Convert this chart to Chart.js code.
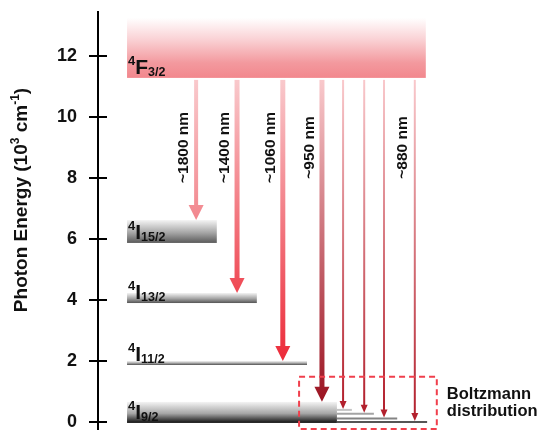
<!DOCTYPE html>
<html>
<head>
<meta charset="utf-8">
<script src="https://cdn.jsdelivr.net/npm/chart.js@4.4.0/dist/chart.umd.min.js"></script>
<style>
  html, body { margin: 0; padding: 0; background: #fff; }
  canvas { display: block; }
</style>
</head>
<body>
<canvas id="c" width="538" height="430"></canvas>
<script>
// ---- Nd3+ energy levels, in 10^3 cm^-1 (lower / upper edge of each manifold)
const levelTerm = ['F', 'I', 'I', 'I', 'I'];
const levelJ    = ['3/2', '15/2', '13/2', '11/2', '9/2'];
const levelLow  = [11.28, 5.87, 3.90, 1.87, -0.03];
const levelHigh = [13.25, 6.62, 4.23, 2.00, 0.66];

// Thermally populated Stark sublevels of the ground manifold 4I9/2
const groundSublevels = [0.43, 0.30, 0.15, 0.03];

// Emission lines starting from 4F3/2
const emissionLabels = ['~1800 nm', '~1400 nm', '~1060 nm', '~950 nm', '', '', '', '~880 nm'];
const emissionTarget = [levelHigh[1], levelHigh[2], levelHigh[3], levelHigh[4], ...groundSublevels];

// Energy axis tick values
const energyTicks = [0, 2, 4, 6, 8, 10, 12];

// ---- Horizontal layout (hidden x scale, 0-100)
const levelX0    = 6.6;
const levelX1    = [74.5, 27.0, 36.1, 47.5, 54.3];
const emissionX  = [22.3, 31.6, 42.0, 50.9, 55.7, 60.5, 65.0, 72.0];
const sublevelX1 = [57.7, 62.7, 68.0, 74.8];
const boxX = [45.7, 77.0], boxE = [-0.23, 1.48];
const labelE = 9.0;

// ---- Styles
const FONT = '"Liberation Sans", Arial, Helvetica, sans-serif';
const levelShade    = [null, '#5a5a5a', '#555555', '#4a4a4a', '#111111'];
const sublevelShade = ['#c4c4c4', '#a4a4a4', '#848484', '#555555'];
const emissionColor = ['#f2868d', '#ef4853', '#ec2b39', '#9b1321', '#b11d2a', '#b11d2a', '#b11d2a', '#b11d2a'];
const emissionShaft = [4, 5, 5, 5, 2, 2, 2, 2];
const emissionHead  = [[15, 15], [15, 15], [15, 15], [15, 15], [7, 8], [7, 8], [7, 8], [7, 8]];

function richText(ctx, x, y, parts, measureOnly) {
  let cx = x;
  for (const [t, size, dy] of parts) {
    ctx.font = `bold ${size}px ${FONT}`;
    if (!measureOnly) ctx.fillText(t, cx, y + dy);
    cx += ctx.measureText(t).width;
  }
  return cx - x;
}

function arrow(ctx, xc, y0, y1, shaftW, headW, headL, colTop, colBot) {
  const g = ctx.createLinearGradient(0, y0, 0, y1);
  g.addColorStop(0, colTop);
  g.addColorStop(1, colBot);
  ctx.fillStyle = g;
  ctx.fillRect(xc - shaftW / 2, y0, shaftW, (y1 - headL) - y0 + 0.5);
  ctx.beginPath();
  ctx.moveTo(xc - headW / 2, y1 - headL);
  ctx.lineTo(xc + headW / 2, y1 - headL);
  ctx.lineTo(xc, y1);
  ctx.closePath();
  ctx.fill();
}

const diagram = {
  id: 'diagram',
  afterDatasetsDraw(chart) {
    const { ctx, scales: { x, y } } = chart;
    const px = v => x.getPixelForValue(v);
    const py = v => y.getPixelForValue(v);
    ctx.save();

    // manifolds
    levelLow.forEach((lo, i) => {
      const x0 = px(levelX0), x1 = px(levelX1[i]);
      const yTop = py(levelHigh[i]), yBot = py(lo);
      const g = ctx.createLinearGradient(0, yTop, 0, yBot);
      if (i === 0) {
        g.addColorStop(0, 'rgba(255,255,255,1)');
        g.addColorStop(0.35, '#fad3d6');
        g.addColorStop(0.75, '#f3999e');
        g.addColorStop(1, '#f2878d');
      } else {
        g.addColorStop(0, '#f4f4f4');
        g.addColorStop(0.55, '#a6a6a6');
        g.addColorStop(1, levelShade[i]);
      }
      ctx.fillStyle = g;
      ctx.fillRect(x0, yTop, x1 - x0, yBot - yTop);
    });

    // Stark sublevels of the ground state
    groundSublevels.forEach((e, i) => {
      ctx.strokeStyle = sublevelShade[i];
      ctx.lineWidth = 2;
      ctx.beginPath();
      ctx.moveTo(px(levelX1[4]), py(e) + 1);
      ctx.lineTo(px(sublevelX1[i]), py(e) + 1);
      ctx.stroke();
    });

    // emission arrows
    const yStart = py(levelLow[0]) + 2;
    emissionTarget.forEach((e, i) => {
      const [hw, hl] = emissionHead[i];
      arrow(ctx, px(emissionX[i]), yStart, py(e), emissionShaft[i], hw, hl,
            '#f9c9cc', emissionColor[i]);
    });

    // wavelength labels
    ctx.fillStyle = '#111';
    ctx.font = `bold 15.5px ${FONT}`;
    ctx.textAlign = 'center';
    ctx.textBaseline = 'alphabetic';
    emissionLabels.forEach((t, i) => {
      if (!t) return;
      ctx.save();
      ctx.translate(px(emissionX[i]) - 8, py(labelE));
      ctx.rotate(-Math.PI / 2);
      ctx.fillText(t, 0, 0);
      ctx.restore();
    });

    // level labels
    ctx.textAlign = 'left';
    levelLow.forEach((lo, i) => {
      const base = py(lo) - 4;
      richText(ctx, px(levelX0) + 1, base, [['4', 13, -9], [levelTerm[i], 21, 0], [levelJ[i], 12.5, 2]]);
    });

    // Boltzmann box
    ctx.setLineDash([6, 4]);
    ctx.strokeStyle = '#f03f4c';
    ctx.lineWidth = 2;
    ctx.strokeRect(px(boxX[0]), py(boxE[1]), px(boxX[1]) - px(boxX[0]), py(boxE[0]) - py(boxE[1]));
    ctx.setLineDash([]);

    ctx.fillStyle = '#111';
    ctx.font = `bold 16.5px ${FONT}`;
    ctx.fillText('Boltzmann', px(boxX[1]) + 10, py(0.76));
    ctx.fillText('distribution', px(boxX[1]) + 10, py(0.20));

    ctx.restore();
  },
  afterDraw(chart) {
    const { ctx, chartArea, scales: { y } } = chart;
    ctx.save();
    // tick marks crossing the axis
    ctx.strokeStyle = '#000';
    ctx.lineWidth = 2;
    y.ticks.forEach(t => {
      const yy = Math.round(y.getPixelForValue(t.value));
      ctx.beginPath();
      ctx.moveTo(chartArea.left, yy);
      ctx.lineTo(chartArea.left + 9, yy);
      ctx.stroke();
    });
    // axis title
    const parts = [['Photon Energy (10', 19, 0], ['3', 12, -8], [' cm', 19, 0], ['-1', 12, -8], [')', 19, 0]];
    const w = richText(ctx, 0, 0, parts, true);
    ctx.fillStyle = '#111';
    ctx.textAlign = 'left';
    ctx.textBaseline = 'alphabetic';
    ctx.translate(27, 200);
    ctx.rotate(-Math.PI / 2);
    richText(ctx, -w / 2, 0, parts);
    ctx.restore();
  }
};

new Chart(document.getElementById('c'), {
  type: 'scatter',
  data: { datasets: [] },
  options: {
    responsive: false,
    animation: false,
    events: [],
    layout: { padding: { top: 12, left: 0, right: 0, bottom: 0 } },
    plugins: { legend: { display: false }, tooltip: { enabled: false } },
    scales: {
      x: { type: 'linear', display: false, min: 0, max: 100 },
      y: {
        type: 'linear',
        min: -0.262,
        max: 13.44,
        afterFit(s) { s.width = 98; s.paddingTop = 0; s.paddingBottom = 0; },
        afterBuildTicks(s) { s.ticks = energyTicks.map(v => ({ value: v })); },
        border: { display: true, color: '#000', width: 2 },
        grid: { drawOnChartArea: false, drawTicks: true, tickLength: 9, color: '#000', lineWidth: 2 },
        ticks: { padding: 12, color: '#111', font: { family: FONT, size: 18, weight: 'bold' } }
      }
    }
  },
  plugins: [diagram]
});
</script>
</body>
</html>
